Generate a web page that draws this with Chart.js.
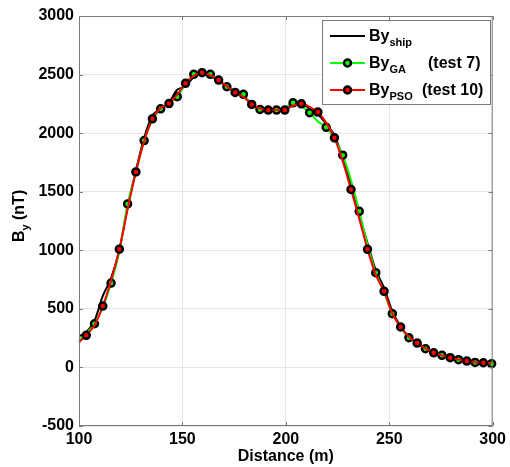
<!DOCTYPE html>
<html>
<head>
<meta charset="utf-8">
<script src="https://cdn.jsdelivr.net/npm/chart.js@4/dist/chart.umd.min.js"></script>
<style>
  html, body { margin: 0; padding: 0; background: #fff; }
  #wrap { width: 510px; height: 467px; }
</style>
</head>
<body>
<div id="wrap"><canvas id="byChart"></canvas></div>
<script>
// distance along the track (m)
const distance = [
  100, 103.5, 107.5, 111.5, 115.5, 119.5, 123.5, 127.5, 131.5, 135.5,
  139.5, 143.5, 147.5, 151.5, 155.5, 159.5, 163.5, 167.5, 171.5, 175.5,
  179.5, 183.5, 187.5, 191.5, 195.5, 199.5, 203.5, 207.5, 211.5, 215.5,
  219.5, 223.5, 227.5, 231.5, 235.5, 239.5, 243.5, 247.5, 251.5, 255.5,
  259.5, 263.5, 267.5, 271.5, 275.5, 279.5, 283.5, 287.5, 291.5, 295.5,
  299.5
];

// measured By on the ship (nT)
const byShip = [
  265, 300, 400, 610, 760, 1000, 1370, 1680, 1960, 2150,
  2210, 2260, 2370, 2400, 2480, 2505, 2490, 2445, 2395, 2350,
  2320, 2250, 2205, 2200, 2205, 2210, 2240, 2245, 2215, 2160,
  2080, 1980, 1790, 1560, 1300, 1060, 830, 680, 480, 350,
  262, 210, 163, 127, 104, 84, 67, 55, 44, 40,
  33
];

// GA fit (test 7)
const byGA = [
  230, 290, 373, 510, 720, 990, 1396, 1660, 1937, 2110,
  2208, 2260, 2311, 2420, 2502, 2510, 2502, 2450, 2396, 2360,
  2331, 2240, 2202, 2195, 2197, 2215, 2259, 2230, 2175, 2100,
  2050, 1950, 1812, 1598, 1333, 1048, 809, 640, 459, 340,
  254, 205, 160, 125, 103, 83, 66, 54, 43, 40,
  32
];

// PSO fit (test 10)
const byPSO = [
  215, 274, 360, 524, 740, 1009, 1350, 1669, 1930, 2122,
  2215, 2252, 2330, 2425, 2490, 2516, 2495, 2453, 2400, 2348,
  2310, 2245, 2210, 2197, 2200, 2197, 2235, 2250, 2225, 2180,
  2090, 1960, 1760, 1519, 1270, 1008, 790, 650, 460, 345,
  262, 208, 163, 125, 103, 83, 67, 54, 45, 40,
  33
];

const xTicks = [100, 150, 200, 250, 300];
const yTicks = [-500, 0, 500, 1000, 1500, 2000, 2500, 3000];

const FONT = "'Liberation Sans', Arial, sans-serif";

function toPoints(ys) {
  return distance.map((d, i) => ({ x: d, y: ys[i] }));
}

// text with a subscript part, e.g. B + y
function drawSub(ctx, x, y, main, sub, rest, size) {
  ctx.font = 'bold ' + size + 'px ' + FONT;
  ctx.fillText(main, x, y);
  x += ctx.measureText(main).width;
  ctx.font = 'bold ' + Math.round(size * 0.7) + 'px ' + FONT;
  ctx.fillText(sub, x, y + size * 0.3);
  x += ctx.measureText(sub).width;
  if (rest) {
    ctx.font = 'bold ' + size + 'px ' + FONT;
    ctx.fillText(rest, x, y);
  }
}

const framePlugin = {
  id: 'frame',
  afterDraw(chart) {
    const ctx = chart.ctx;
    const a = chart.chartArea;
    const xs = chart.scales.x, ys = chart.scales.y;
    ctx.save();
    // box
    ctx.strokeStyle = '#7a7a7a';
    ctx.lineWidth = 1;
    ctx.strokeRect(a.left + 0.5, a.top + 0.5, a.right - a.left - 1, a.bottom - a.top - 1);
    // inward ticks on all four sides
    ctx.beginPath();
    xTicks.forEach(v => {
      const px = Math.round(xs.getPixelForValue(v)) + 0.5;
      ctx.moveTo(px, a.bottom); ctx.lineTo(px, a.bottom - 4);
      ctx.moveTo(px, a.top); ctx.lineTo(px, a.top + 4);
    });
    yTicks.forEach(v => {
      const py = Math.round(ys.getPixelForValue(v)) + 0.5;
      ctx.moveTo(a.left, py); ctx.lineTo(a.left + 4, py);
      ctx.moveTo(a.right, py); ctx.lineTo(a.right - 4, py);
    });
    ctx.stroke();

    // y axis title, rotated
    ctx.fillStyle = '#000';
    ctx.textBaseline = 'alphabetic';
    ctx.textAlign = 'left';
    ctx.save();
    ctx.translate(24, (a.top + a.bottom) / 2 - 6);
    ctx.rotate(-Math.PI / 2);
    ctx.font = 'bold 16px ' + FONT;
    const w = ctx.measureText('B').width + ctx.measureText(' (nT)').width + 8;
    drawSub(ctx, -w / 2, 0, 'B', 'y', ' (nT)', 16);
    ctx.restore();

    // legend
    const lx = 322, ly = 20, lw = 168, lh = 84;
    ctx.fillStyle = '#fff';
    ctx.fillRect(lx, ly, lw, lh);
    ctx.strokeStyle = '#7a7a7a';
    ctx.strokeRect(lx + 0.5, ly + 0.5, lw, lh);
    const rows = [
      { color: '#000000', marker: null, sub: 'ship', rest: '', restX: 0 },
      { color: '#00ff00', marker: '#00ff00', sub: 'GA', rest: '(test 7)', restX: 428 },
      { color: '#ff0000', marker: '#ff0000', sub: 'PSO', rest: '(test 10)', restX: 422 }
    ];
    rows.forEach((r, i) => {
      const cy = 36 + i * 27;
      ctx.strokeStyle = r.color;
      ctx.lineWidth = 2;
      ctx.beginPath();
      ctx.moveTo(330, cy); ctx.lineTo(365, cy);
      ctx.stroke();
      if (r.marker) {
        ctx.beginPath();
        ctx.arc(347.5, cy, 3.5, 0, Math.PI * 2);
        ctx.fillStyle = r.marker;
        ctx.fill();
        ctx.strokeStyle = '#000';
        ctx.lineWidth = 2.5;
        ctx.stroke();
      }
      ctx.fillStyle = '#000';
      drawSub(ctx, 369, cy + 5, 'By', r.sub, '', 16);
      if (r.rest) {
        ctx.font = 'bold 16px ' + FONT;
        ctx.fillText(r.rest, r.restX, cy + 5);
      }
    });
    ctx.restore();
  }
};

const data = {
  datasets: [
    {
      label: 'By ship',
      data: toPoints(byShip),
      borderColor: '#000000',
      borderWidth: 2,
      pointRadius: 0,
      tension: 0.3,
      order: 3
    },
    {
      label: 'By GA (test 7)',
      data: toPoints(byGA),
      borderColor: '#00ff00',
      borderWidth: 2,
      pointBackgroundColor: '#00ff00',
      pointBorderColor: '#000000',
      pointBorderWidth: 2.5,
      pointRadius: ctx => (ctx.dataIndex > 0 && ctx.dataIndex % 2 === 0 ? 3.5 : 0),
      tension: 0.3,
      clip: 6,
      order: 2
    },
    {
      label: 'By PSO (test 10)',
      data: toPoints(byPSO),
      borderColor: '#ff0000',
      borderWidth: 2,
      pointBackgroundColor: '#ff0000',
      pointBorderColor: '#000000',
      pointBorderWidth: 2.5,
      pointRadius: ctx => (ctx.dataIndex % 2 === 1 ? 3.5 : 0),
      tension: 0.3,
      clip: 6,
      order: 1
    }
  ]
};

const config = {
  type: 'line',
  data: data,
  plugins: [framePlugin],
  options: {
    responsive: true,
    maintainAspectRatio: false,
    animation: false,
    layout: { padding: { top: 16, right: 14, left: 0, bottom: 0 } },
    plugins: {
      legend: { display: false },
      tooltip: { enabled: false }
    },
    scales: {
      x: {
        type: 'linear',
        min: 100,
        max: 300,
        afterBuildTicks: s => { s.ticks = xTicks.map(v => ({ value: v })); },
        afterFit: s => { s.height = 41; },
        grid: { color: '#e6e6e6', drawTicks: false },
        border: { display: false },
        ticks: {
          color: '#000',
          padding: 4,
          maxRotation: 0,
          callback: v => String(v),
          font: { family: FONT, size: 16, weight: 'bold' }
        },
        title: {
          display: true,
          text: 'Distance (m)',
          color: '#000',
          padding: { top: 0, bottom: 1 },
          font: { family: FONT, size: 16, weight: 'bold' }
        }
      },
      y: {
        min: -500,
        max: 3000,
        afterBuildTicks: s => { s.ticks = yTicks.map(v => ({ value: v })); },
        afterFit: s => { s.width = 79; },
        grid: { color: '#e6e6e6', drawTicks: false },
        border: { display: false },
        ticks: {
          color: '#000',
          padding: 5,
          callback: v => String(v),
          font: { family: FONT, size: 16, weight: 'bold' }
        }
      }
    }
  }
};

const chart = new Chart(document.getElementById('byChart'), config);
</script>
</body>
</html>
